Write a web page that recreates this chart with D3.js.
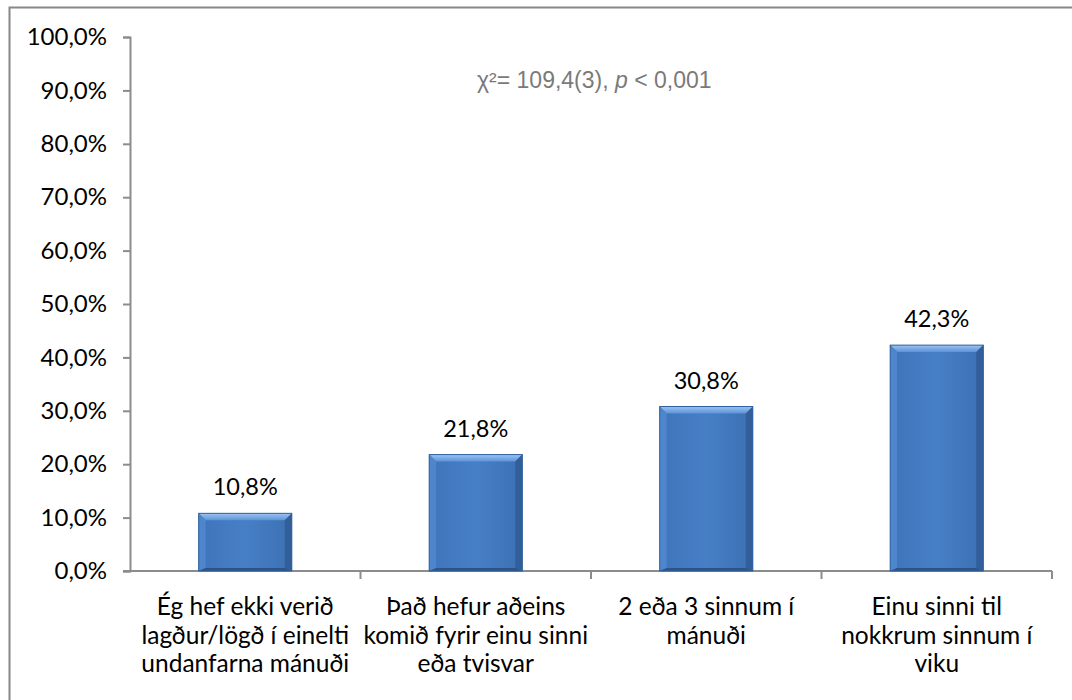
<!DOCTYPE html>
<html>
<head>
<meta charset="utf-8">
<script src="https://cdn.jsdelivr.net/npm/d3@7"></script>
<style>
  html, body { margin: 0; padding: 0; background: #fff; }
  svg { display: block; }
</style>
</head>
<body>
<svg id="chart" width="1072" height="700"></svg>
<script>
// Tíðni eineltis – hlutfall eftir svarmöguleika
const categories = [
  ["Ég hef ekki verið", "lagður/lögð í einelti", "undanfarna mánuði"],
  ["Það hefur aðeins", "komið fyrir einu sinni", "eða tvisvar"],
  ["2 eða 3 sinnum í", "mánuði"],
  ["Einu sinni til", "nokkrum sinnum í", "viku"]
];
const values = [10.8, 21.8, 30.8, 42.3];
const yTicks = [0, 10, 20, 30, 40, 50, 60, 70, 80, 90, 100];
const statText = ["χ²= 109,4(3), ", "p", " < 0,001"];

const svg = d3.select("#chart");
const margin = { left: 130, top: 37 };
const plotRight = 1052;
const plotBottom = 571;
const FONT = "Lato, 'Open Sans', sans-serif";

const fmtPct = v => d3.format(".1f")(v).replace(".", ",") + "%";

// Outer chart frame
svg.append("rect")
  .attr("x", 9.5).attr("y", 7.5)
  .attr("width", 1080).attr("height", 720)
  .attr("fill", "#fff")
  .attr("stroke", "#878787").attr("stroke-width", 2);

const x = d3.scaleBand()
  .domain(d3.range(categories.length))
  .range([margin.left, plotRight]);

const y = d3.scaleLinear().domain([0, 100]).range([plotBottom, margin.top]);

// Gradients for the bevelled bars
const defs = svg.append("defs");
const gMain = defs.append("linearGradient").attr("id", "barMain")
  .attr("x1", "0").attr("x2", "1").attr("y1", "0").attr("y2", "0");
gMain.append("stop").attr("offset", "0").attr("stop-color", "#3f74ba");
gMain.append("stop").attr("offset", "0.5").attr("stop-color", "#477fc6");
gMain.append("stop").attr("offset", "1").attr("stop-color", "#3c70b3");
const gTop = defs.append("linearGradient").attr("id", "barTop")
  .attr("x1", "0").attr("x2", "0").attr("y1", "0").attr("y2", "1");
gTop.append("stop").attr("offset", "0").attr("stop-color", "#9cc4f2");
gTop.append("stop").attr("offset", "1").attr("stop-color", "#5b93d8");

// Y axis
const yAxis = svg.append("g")
  .attr("transform", `translate(${margin.left},0)`)
  .call(d3.axisLeft(y).tickValues(yTicks).tickFormat(fmtPct).tickSizeOuter(0).tickSize(7).tickPadding(16));
yAxis.select(".domain").attr("stroke", "#8c8c8c").attr("stroke-width", 2);
yAxis.selectAll(".tick line").attr("stroke", "#8c8c8c").attr("stroke-width", 2);
yAxis.selectAll(".tick text")
  .attr("font-family", FONT)
  .attr("font-size", 24).attr("fill", "#000");

// X axis line and category separators
const xAxisG = svg.append("g");
xAxisG.append("line")
  .attr("x1", margin.left - 7).attr("x2", plotRight)
  .attr("y1", plotBottom).attr("y2", plotBottom)
  .attr("stroke", "#8c8c8c").attr("stroke-width", 2);
const edges = d3.range(1, categories.length + 1).map(i => margin.left + i * x.step());
xAxisG.selectAll("line.sep").data(edges).join("line")
  .attr("class", "sep")
  .attr("x1", d => d).attr("x2", d => d)
  .attr("y1", plotBottom).attr("y2", plotBottom + 8)
  .attr("stroke", "#8c8c8c").attr("stroke-width", 2);

// Bars
const barW = x.step() * 0.404;
const bars = svg.append("g").selectAll("g.bar")
  .data(values).join("g").attr("class", "bar");

bars.each(function(v, i) {
  const g = d3.select(this);
  const cx = x(i) + x.bandwidth() / 2;
  const x0 = cx - barW / 2, x1 = cx + barW / 2;
  const y0 = y(v), y1 = y(0);
  const b = 7, bb = 3;
  g.append("rect")
    .attr("x", x0).attr("y", y0).attr("width", barW).attr("height", y1 - y0)
    .attr("fill", "url(#barMain)");
  // top bevel
  g.append("polygon")
    .attr("points", [[x0, y0], [x1, y0], [x1 - b, y0 + b], [x0 + b, y0 + b]].join(" "))
    .attr("fill", "url(#barTop)");
  // left bevel
  g.append("polygon")
    .attr("points", [[x0, y0], [x0 + b, y0 + b], [x0 + b, y1 - bb], [x0, y1]].join(" "))
    .attr("fill", "#4d86cc");
  // right bevel
  g.append("polygon")
    .attr("points", [[x1, y0], [x1 - b, y0 + b], [x1 - b, y1 - bb], [x1, y1]].join(" "))
    .attr("fill", "#325e9a");
  // bottom bevel
  g.append("polygon")
    .attr("points", [[x0, y1], [x0 + b, y1 - bb], [x1 - b, y1 - bb], [x1, y1]].join(" "))
    .attr("fill", "#2c5489");
  g.append("rect")
    .attr("x", x0).attr("y", y0).attr("width", barW).attr("height", y1 - y0)
    .attr("fill", "none").attr("stroke", "#30609e").attr("stroke-width", 1);

  // value label
  g.append("text")
    .attr("x", cx).attr("y", y0 - 18)
    .attr("text-anchor", "middle")
    .attr("font-family", FONT)
    .attr("font-size", 23.5).attr("fill", "#000")
    .text(fmtPct(v));
});

// Category labels
svg.append("g").selectAll("text.cat")
  .data(categories).join("text")
  .attr("class", "cat")
  .attr("text-anchor", "middle")
  .attr("font-family", FONT)
  .attr("font-size", 24.5).attr("fill", "#000")
  .each(function(lines, i) {
    const cx = x(i) + x.bandwidth() / 2;
    d3.select(this).selectAll("tspan").data(lines).join("tspan")
      .attr("x", cx)
      .attr("y", (d, j) => 615 + j * 28.5)
      .text(d => d);
  });

// Test statistic
const stat = svg.append("text")
  .attr("x", 477).attr("y", 88)
  .attr("font-family", "'Liberation Sans', Arial, sans-serif")
  .attr("font-size", 23).attr("fill", "#7a7a7a");
stat.selectAll("tspan").data(statText).join("tspan")
  .attr("font-style", (d, i) => i === 1 ? "italic" : "normal")
  .text(d => d);
</script>
</body>
</html>
